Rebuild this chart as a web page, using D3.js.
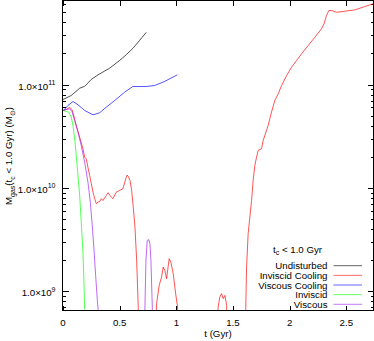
<!DOCTYPE html>
<html>
<head>
<meta charset="utf-8">
<script src="https://cdn.jsdelivr.net/npm/d3@7"></script>
<style>
  body { margin: 0; background: #fff; }
  svg { display: block; font-family: "Liberation Sans", Arial, sans-serif; }
</style>
</head>
<body>
<div id="chart"></div>
<script>
// Gas mass with cooling time < 1.0 Gyr (Msun) against time (Gyr)
// values below the plot floor (3e8) mark where a curve drops out of view
var tUndisturbed = [0, 0.073, 0.147, 0.191, 0.25, 0.309, 0.412, 0.5, 0.558, 0.617, 0.676, 0.735]
var mUndisturbed = [7.16e10, 7.83e10, 9.2e10, 9.6e10, 1.12e11, 1.24e11, 1.44e11, 1.71e11, 1.94e11, 2.24e11, 2.67e11, 3.2e11]

var tInviscidCooling = [0, 0.029, 0.059, 0.079, 0.091, 0.117, 0.147, 0.176, 0.191, 0.205, 0.220, 0.235, 0.250, 0.265, 0.280, 0.294, 0.309, 0.324, 0.338, 0.353, 0.382, 0.397, 0.426, 0.441, 0.470, 0.500, 0.529, 0.558, 0.566, 0.576, 0.591, 0.606, 0.620, 0.635, 0.650, 0.664, 0.672,
  0.811, 0.826, 0.849, 0.870, 0.884, 0.899, 0.914, 0.937, 0.952, 0.973, 0.994, 1.011, 1.018,
  1.362, 1.369, 1.384, 1.399, 1.414, 1.429, 1.444, 1.451,
  1.608, 1.614, 1.620, 1.634, 1.649, 1.664, 1.678, 1.693, 1.708, 1.722, 1.752, 1.766, 1.796, 1.810, 1.840, 1.869, 1.899, 1.929, 1.973, 2.017, 2.061, 2.105, 2.163, 2.222, 2.281, 2.304, 2.325, 2.346, 2.370, 2.414, 2.487, 2.575, 2.663, 2.736]
var mInviscidCooling = [5.61e10, 5.73e10, 6.0e10, 5.73e10, 5.21e10, 4.01e10, 3.09e10, 2.39e10, 1.98e10, 1.91e10, 1.58e10, 1.32e10, 1.10e10, 9.08e9, 7.85e9, 7.02e9, 7.28e9, 7.39e9, 7.85e9, 7.55e9, 8.45e9, 8.97e9, 8.13e9, 7.85e9, 9.08e9, 9.44e9, 9.80e9, 1.27e10, 1.33e10, 1.29e10, 1.18e10, 9.44e9, 6.5e9, 4.17e9, 1.99e9, 7.0e8, 3e8,
  3e8, 7.57e8, 1.14e9, 1.37e9, 1.71e9, 1.59e9, 1.32e9, 2.06e9, 1.91e9, 1.47e9, 9.46e8, 7.02e8, 3e8,
  3e8, 7.02e8, 8.77e8, 9.46e8, 8.47e8, 9.1e8, 7.3e8, 3e8,
  3e8, 8.15e8, 1.71e9, 3.62e9, 5.21e9, 7.55e9, 1.18e10, 1.65e10, 1.98e10, 2.30e10, 2.39e10, 2.87e10, 3.59e10, 4.01e10, 5.40e10, 7.0e10, 8.13e10, 9.78e10, 1.22e11, 1.47e11, 1.71e11, 1.98e11, 2.38e11, 2.86e11, 3.46e11, 3.87e11, 4.65e11, 5.20e11, 5.20e11, 5.0e11, 5.12e11, 5.27e11, 5.68e11, 6.03e11]

var tViscousCooling = [0, 0.044, 0.088, 0.132, 0.191, 0.265, 0.324, 0.382, 0.456, 0.544, 0.617, 0.676, 0.735, 0.809, 0.897, 1.008]
var mViscousCooling = [5.52e10, 6.27e10, 6.85e10, 6.37e10, 5.61e10, 5.09e10, 5.33e10, 6.03e10, 7.0e10, 8.43e10, 9.57e10, 9.57e10, 9.57e10, 9.78e10, 1.07e11, 1.24e11]

var tInviscid = [0, 0.029, 0.050, 0.073, 0.088, 0.103, 0.117, 0.132, 0.147, 0.161, 0.176, 0.185, 0.191, 0.194]
var mInviscid = [5.61e10, 5.48e10, 5.40e10, 4.83e10, 4.01e10, 2.98e10, 2.06e10, 1.32e10, 8.45e9, 4.66e9, 2.39e9, 1.22e9, 6.78e8, 3e8]

var tViscous = [0, 0.029, 0.059, 0.079, 0.103, 0.132, 0.161, 0.191, 0.220, 0.241, 0.258, 0.273, 0.288, 0.302, 0.311, 0.314,
  0.719, 0.723, 0.732, 0.743, 0.758, 0.767, 0.776, 0.788, 0.791]
var mViscous = [5.61e10, 5.73e10, 5.82e10, 5.48e10, 4.49e10, 3.46e10, 2.57e10, 1.77e10, 1.14e10, 7.28e9, 4.33e9, 2.58e9, 1.42e9, 8.45e8, 6.5e8, 3e8,
  3e8, 7.02e8, 1.99e9, 3.10e9, 3.15e9, 2.88e9, 1.99e9, 7.02e8, 3e8]

var seriesNames = ["Undisturbed", "Inviscid Cooling", "Viscous Cooling", "Inviscid", "Viscous"]
var seriesColors = ["#000000", "#ff0000", "#0000ff", "#00ff00", "#a020f0"]

var xTicks = [0, 0.5, 1, 1.5, 2, 2.5]
var xTickLabels = ["0", "0.5", "1", "1.5", "2", "2.5"]
var yTicks = [1e9, 1e10, 1e11]
var yTickExps = ["9", "10", "11"]

var series = [
  d3.zip(tUndisturbed, mUndisturbed),
  d3.zip(tInviscidCooling, mInviscidCooling),
  d3.zip(tViscousCooling, mViscousCooling),
  d3.zip(tInviscid, mInviscid),
  d3.zip(tViscous, mViscous)
]

var W = 374, H = 341
  , L = 62.5, R = 373.5, T = 0.5, B = 310.5
  , fs = 9.7

var x = d3.scaleLinear().domain([0, 2.74]).range([63, R])
var y = d3.scaleLog().domain([6.5e8, 6.5e11]).range([B, T])

var svg = d3.select("#chart").append("svg")
  .attr("width", W)
  .attr("height", H)

svg.append("clipPath").attr("id", "plot-clip")
  .append("rect")
  .attr("x", L).attr("y", T)
  .attr("width", R - L).attr("height", B - T)

// minor ticks: 2..9 inside each decade
var yMinor = []
for (var d = 8; d <= 11; d++) {
  for (var k = 2; k <= 9; k++) {
    var v = k * Math.pow(10, d)
    if (v > y.domain()[0] && v < y.domain()[1]) yMinor.push(v)
  }
}

var ticks = svg.append("g")
  .attr("stroke", "#000")
  .attr("stroke-width", 1)
  .attr("shape-rendering", "crispEdges")

ticks.selectAll(".ymaj").data(yTicks).enter().append("path")
  .attr("d", function(v) {
    var yy = Math.round(y(v)) + 0.5
    return "M" + L + "," + yy + "h6M" + R + "," + yy + "h-6"
  })
ticks.selectAll(".ymin").data(yMinor).enter().append("path")
  .attr("d", function(v) {
    var yy = Math.round(y(v)) + 0.5
    return "M" + L + "," + yy + "h3M" + R + "," + yy + "h-3"
  })
ticks.selectAll(".xmaj").data(xTicks).enter().append("path")
  .attr("d", function(v) {
    var xx = Math.round(x(v)) + 0.5
    return "M" + xx + "," + B + "v-5M" + xx + "," + T + "v5"
  })

// curves
var line = d3.line()
  .x(function(d) { return x(d[0]) })
  .y(function(d) { return y(d[1]) })

svg.append("g").attr("clip-path", "url(#plot-clip)")
  .selectAll("path").data(series).enter().append("path")
  .attr("d", line)
  .attr("fill", "none")
  .attr("stroke", function(d, i) { return seriesColors[i] })
  .attr("stroke-width", 0.8)
  .attr("stroke-opacity", 0.85)

// border
svg.append("rect")
  .attr("x", L).attr("y", T)
  .attr("width", R - L).attr("height", B - T)
  .attr("fill", "none")
  .attr("stroke", "#000")
  .attr("shape-rendering", "crispEdges")

// tick labels
svg.selectAll(".xlab").data(xTicks).enter().append("text")
  .attr("x", function(v) { return x(v) })
  .attr("y", 325.5)
  .attr("text-anchor", "middle")
  .attr("font-size", fs)
  .text(function(v, i) { return xTickLabels[i] })

var yl = svg.selectAll(".ylab").data(yTicks).enter().append("text")
  .attr("x", 55.5)
  .attr("y", function(v) { return y(v) + 5 })
  .attr("text-anchor", "end")
  .attr("font-size", fs)
yl.append("tspan").text("1.0×10")
yl.append("tspan").attr("dy", -4.5).attr("font-size", 7)
  .text(function(v, i) { return yTickExps[i] })

// axis titles
svg.append("text")
  .attr("x", (L + R) / 2)
  .attr("y", 337)
  .attr("text-anchor", "middle")
  .attr("font-size", fs)
  .text("t (Gyr)")

var ylab = svg.append("text")
  .attr("transform", "translate(12," + 156 + ") rotate(-90)")
  .attr("text-anchor", "middle")
  .attr("font-size", fs)
ylab.append("tspan").text("M")
ylab.append("tspan").attr("dy", 2.5).attr("font-size", 7).text("gas")
ylab.append("tspan").attr("dy", -2.5).text("(t")
ylab.append("tspan").attr("dy", 2.5).attr("font-size", 7).text("c")
ylab.append("tspan").attr("dy", -2.5).text(" < 1.0 Gyr) (M")
ylab.append("tspan").attr("dy", 2.5).attr("font-size", 7).text("⊙")
ylab.append("tspan").attr("dy", -2.5).text(")")

// legend
var kt = svg.append("text")
  .attr("x", 273)
  .attr("y", 252.5)
  .attr("font-size", fs)
kt.append("tspan").text("t")
kt.append("tspan").attr("dy", 2.5).attr("font-size", 7).text("c")
kt.append("tspan").attr("dy", -2.5).text(" < 1.0 Gyr")

var key = svg.selectAll(".key").data(seriesNames).enter().append("g")
  .attr("transform", function(d, i) { return "translate(0," + (265.7 + i * 9.65) + ")" })
key.append("text")
  .attr("x", 327.5)
  .attr("y", 3.5)
  .attr("text-anchor", "end")
  .attr("font-size", fs)
  .text(function(d) { return d })
key.append("line")
  .attr("x1", 333.5).attr("x2", 362)
  .attr("y1", 0).attr("y2", 0)
  .attr("stroke", function(d, i) { return seriesColors[i] })
  .attr("stroke-width", 1)
  .attr("stroke-opacity", 0.6)
</script>
</body>
</html>
